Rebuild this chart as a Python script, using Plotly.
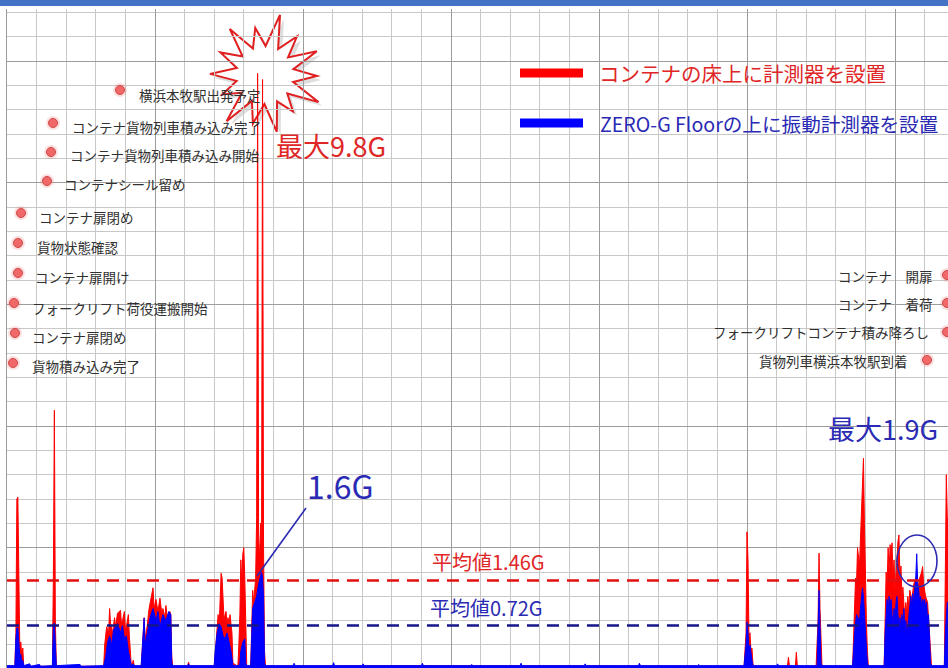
import math
import plotly.graph_objects as go

# ---------------- data ----------------
# elapsed time (arbitrary units, grid every 30) and acceleration (G)
t_red = [0, 8, 9, 10, 11, 12, 13, 14, 15, 16, 17,
         46, 47, 48, 49, 50,
         98, 99, 101, 103, 104, 105, 107, 109, 110, 112, 115, 116, 117, 119, 120, 121, 123, 124, 125, 126, 128, 129,
         136, 138, 139, 140, 142, 144, 146, 147, 148, 149, 151, 153, 155, 157, 158, 160, 161, 163, 165, 166, 167, 168,
         183, 184, 185,
         210, 211, 212, 214, 215, 216, 217, 218, 219, 220, 221, 222, 223, 224, 225, 226, 227, 228, 229,
         234, 235, 236, 237, 238, 239, 240, 241, 242, 243,
         247, 248, 249, 250, 251, 252, 253, 254, 255, 256, 257, 258, 259, 260, 261, 262,
         398, 601,
         747, 749, 750, 751, 752, 753, 754, 755, 756, 757,
         791, 792, 793, 799, 800, 801,
         820, 822, 823, 824, 825, 826,
         857, 858, 859, 860, 861, 862, 864, 865, 866, 867, 868, 869, 870, 871, 872, 873,
         889, 890, 891, 892, 893, 894, 895, 896, 897, 898, 899, 900, 901, 902, 903, 904, 905, 906, 907, 908, 909, 910,
         911, 912, 913, 914, 915, 917, 919, 921, 923, 925, 927, 928, 929, 931, 933, 935, 936, 937,
         950, 951, 952, 953, 955]
g_red = [0.05, 0.05, 0.6, 2.8, 2.83, 0.8, 0.3, 0.45, 0.2, 0.35, 0.05,
         0.05, 1.5, 4.26, 0.8, 0.05,
         0.05, 0.4, 0.7, 0.6, 1.0, 0.75, 0.6, 0.85, 0.7, 0.92, 0.97, 0.75, 0.8, 0.95, 0.65, 0.7, 0.9, 0.55, 0.3, 0.05, 0.15, 0.05,
         0.05, 0.5, 0.85, 0.5, 0.7, 1.0, 1.2, 1.3, 1.34, 1.0, 1.15, 0.95, 1.17, 0.9, 1.0, 0.85, 1.05, 0.8, 0.95, 0.9, 0.2, 0.05,
         0.05, 0.12, 0.05,
         0.05, 0.3, 0.5, 0.9, 0.7, 1.2, 1.58, 1.5, 1.0, 0.8, 0.9, 0.95, 0.75, 0.85, 0.7, 0.9, 0.75, 0.6, 0.1,
         0.05, 0.4, 0.9, 1.8, 1.4, 1.9, 2.0, 1.5, 0.4, 0.05,
         0.05, 1.0, 1.3, 1.1, 1.35, 1.5, 2.5, 9.8, 2.2, 1.8, 2.4, 2.0, 9.7, 2.0, 0.3, 0.05,
         0.06, 0.05,
         0.05, 0.6, 2.26, 1.8, 0.5, 0.6, 0.3, 0.35, 0.1, 0.05,
         0.05, 0.2, 0.05, 0.05, 0.28, 0.05,
         0.05, 0.8, 1.91, 1.0, 0.3, 0.05,
         0.05, 0.6, 1.2, 1.5, 1.4, 2.0, 1.7, 2.1, 2.5, 3.0, 3.47, 2.4, 1.2, 0.8, 0.3, 0.05,
         0.05, 0.8, 1.6, 1.4, 2.0, 1.6, 2.05, 1.9, 2.08, 1.5, 1.8, 1.3, 1.6, 1.9, 2.1, 2.21, 1.5, 1.7, 1.2, 1.35, 1.0, 0.8,
         1.1, 0.9, 1.2, 1.0, 1.3, 1.15, 1.4, 1.5, 1.3, 1.5, 1.6, 1.69, 1.4, 1.2, 1.1, 0.6, 0.2, 0.05,
         0.05, 1.5, 3.2, 2.5, 2.3]

t_blue = [0, 8, 9, 10, 11, 12, 13, 14, 15, 16, 17,
          23, 24, 33, 34,
          46, 47, 48, 49, 50,
          74, 75,
          98, 100, 102, 104, 106, 108, 110, 112, 115, 117, 119, 121, 123, 125, 126,
          128, 129,
          136, 138, 139, 140, 142, 145, 148, 151, 153, 155, 158, 161, 164, 166, 167, 168,
          183, 184, 185,
          210, 211, 213, 215, 217, 219, 221, 223, 225, 227, 229,
          235, 236, 237, 239, 241, 242, 243,
          247, 248, 249, 251, 253, 255, 257, 258, 259, 260, 261, 262,
          290, 291, 292, 330, 331, 332, 360, 361, 362, 420, 421, 422, 470, 471, 472,
          520, 521, 522, 585, 586, 587, 640, 641, 642, 700, 701, 702,
          747, 749, 750, 751, 752, 753, 754, 755, 756,
          780, 781, 782,
          821, 822, 823, 824, 825, 826,
          857, 858, 859, 861, 864, 865, 867, 868, 869, 870, 871, 872, 873,
          889, 890, 891, 892, 893, 894, 895, 896, 897, 898, 899, 900, 901, 902, 903, 904, 905, 906, 907, 908, 909, 910,
          911, 912, 913, 914, 915, 916, 917, 918, 919, 920, 921, 922, 923, 924, 925, 926, 927, 928, 929, 930,
          931, 932, 933, 934, 935, 936, 937,
          950, 951, 952, 953, 955]
g_blue = [0.06, 0.06, 0.5, 0.68, 0.68, 0.3, 0.2, 0.25, 0.1, 0.15, 0.06,
          0.09, 0.05, 0.08, 0.05,
          0.06, 0.7, 0.76, 0.3, 0.06,
          0.08, 0.05,
          0.06, 0.2, 0.45, 0.55, 0.4, 0.65, 0.7, 0.75, 0.6, 0.72, 0.5, 0.55, 0.3, 0.1, 0.06,
          0.09, 0.06,
          0.06, 0.6, 0.84, 0.4, 0.6, 0.85, 1.0, 0.8, 0.95, 0.7, 0.9, 0.8, 0.95, 0.9, 0.1, 0.06,
          0.06, 0.09, 0.06,
          0.06, 0.3, 0.6, 0.75, 0.7, 0.55, 0.5, 0.6, 0.45, 0.3, 0.06,
          0.06, 0.1, 0.3, 0.45, 0.5, 0.1, 0.06,
          0.06, 0.8, 1.0, 1.1, 1.2, 1.4, 1.55, 1.6, 1.5, 1.2, 0.1, 0.06,
          0.06, 0.1, 0.06, 0.06, 0.11, 0.06, 0.06, 0.09, 0.06, 0.06, 0.1, 0.06, 0.06, 0.08, 0.06,
          0.06, 0.1, 0.06, 0.06, 0.09, 0.06, 0.06, 0.1, 0.06, 0.06, 0.08, 0.06,
          0.06, 0.4, 0.78, 0.6, 0.3, 0.4, 0.2, 0.15, 0.06,
          0.06, 0.09, 0.06,
          0.06, 0.6, 1.3, 0.7, 0.1, 0.06,
          0.06, 0.3, 0.6, 0.9, 0.8, 1.0, 1.34, 1.2, 0.9, 0.6, 0.4, 0.1, 0.06,
          0.06, 0.6, 1.0, 1.15, 0.9, 1.2, 1.0, 1.15, 0.9, 0.7, 1.0, 0.8, 1.1, 1.2, 0.9, 0.7, 0.85, 0.6, 0.9, 0.7, 1.0, 0.6,
          0.8, 0.55, 0.7, 0.9, 1.0, 1.2, 1.0, 1.25, 1.1, 1.3, 1.5, 1.9, 1.4, 1.3, 1.1, 1.2, 1.0, 1.15, 1.1, 1.15,
          1.0, 1.1, 0.8, 0.9, 0.5, 0.1, 0.06,
          0.06, 0.6, 1.0, 1.1, 1.1]

mean_red = 1.46
mean_blue = 0.72
max_red = 9.8
peak_blue_early = 1.6
max_blue = 1.9

series_names = ["コンテナの床上に計測器を設置", "ZERO-G Floorの上に振動計測器を設置"]
events_left = ["横浜本牧駅出発予定", "コンテナ貨物列車積み込み完了", "コンテナ貨物列車積み込み開始",
               "コンテナシール留め", "コンテナ扉閉め", "貨物状態確認", "コンテナ扉開け",
               "フォークリフト荷役運搬開始", "コンテナ扉閉め", "貨物積み込み完了"]
events_right = ["コンテナ　開扉", "コンテナ　着荷", "フォークリフトコンテナ積み降ろし", "貨物列車横浜本牧駅到着"]

# ---------------- layout helpers (pixel -> paper) ----------------
W, H = 948, 668
LM, TM = 7, 9
PW, PH = W - LM, H - TM


def px(x):
    return (x - LM) / PW


def py(y):
    return (H - y) / PH


FONT = "Noto Sans CJK JP"
RED_TXT = "#e02626"
BLUE_TXT = "#2a2ab4"

fig = go.Figure()
fig.add_trace(go.Scatter(x=t_red, y=g_red, mode="lines", line=dict(color="#ff0000", width=1),
                         fill="tozeroy", fillcolor="#ff0000", hoverinfo="skip", showlegend=False))
fig.add_trace(go.Scatter(x=t_blue, y=g_blue, mode="lines", line=dict(color="#0000ff", width=1),
                         fill="tozeroy", fillcolor="#0000ff", hoverinfo="skip", showlegend=False))

shapes = []
annotations = []

# top banner
shapes.append(dict(type="rect", xref="paper", yref="paper", x0=px(0), x1=px(W), y0=py(6), y1=py(0),
                   fillcolor="#4472c4", line=dict(width=0), layer="above"))

# mean lines
shapes.append(dict(type="line", xref="paper", yref="y", x0=0, x1=1, y0=mean_red, y1=mean_red,
                   line=dict(color="#e01010", width=2.5, dash="12px,8px")))
shapes.append(dict(type="line", xref="paper", yref="y", x0=0, x1=1, y0=mean_blue, y1=mean_blue,
                   line=dict(color="#16168a", width=2.5, dash="12px,8px")))

# starburst (shadow + star)
cx, cy = 265, 75
radii = [62, 50, 57, 52, 60, 46, 58, 50, 60, 47, 55, 50, 58, 48]
n = len(radii)
a0 = math.radians(-76)


def star_path(dx, dy):
    pts = []
    for i in range(n):
        a = a0 + 2 * math.pi * i / n
        pts.append((cx + dx + radii[i] * math.cos(a), cy + dy + radii[i] * math.sin(a)))
        ai = a + math.pi / n
        pts.append((cx + dx + 29 * math.cos(ai), cy + dy + 29 * math.sin(ai)))
    s = "M " + " L ".join(f"{px(x):.5f},{py(y):.5f}" for x, y in pts) + " Z"
    return s


shapes.append(dict(type="path", xref="paper", yref="paper", path=star_path(4, 4),
                   fillcolor="rgba(0,0,0,0.13)", line=dict(width=0), layer="between"))
shapes.append(dict(type="path", xref="paper", yref="paper", path=star_path(0, 0),
                   fillcolor="white", line=dict(color="#e02020", width=2), layer="between"))

# legend
leg_y = [73, 123]
leg_col = ["#ff0000", "#0000ff"]
leg_txt_col = [RED_TXT, BLUE_TXT]
leg_txt_x = [597, 598]
leg_size = [20.5, 19.6]
for name, yy, c, tc, tx, fs in zip(series_names, leg_y, leg_col, leg_txt_col, leg_txt_x, leg_size):
    shapes.append(dict(type="rect", xref="paper", yref="paper", x0=px(520), x1=px(583),
                       y0=py(yy + 4.5), y1=py(yy - 4.5), fillcolor=c, line=dict(width=0)))
    annotations.append(dict(xref="paper", yref="paper", x=px(tx), y=py(yy), text=name, showarrow=False,
                            xanchor="left", yanchor="middle", font=dict(family=FONT, size=fs, color=tc)))

# event labels
left_pos = [(137, 95, 120, 90), (70, 127, 53, 123), (68, 155, 51, 152), (62, 184, 47, 181),
            (37, 217, 21, 213), (35, 247, 18, 243), (33, 277, 18, 273), (30, 308, 14, 303),
            (30, 337, 15, 333), (30, 366, 13, 363)]
right_pos = [(935, 276, 947, 275), (935, 304, 947, 303), (931, 332, 947, 332), (910, 361, 927, 360)]


def dot(x, y):
    shapes.append(dict(type="circle", xref="paper", yref="paper", x0=px(x - 7), x1=px(x + 7),
                       y0=py(y + 7), y1=py(y - 7), fillcolor="rgba(240,110,110,0.22)", line=dict(width=0)))
    shapes.append(dict(type="circle", xref="paper", yref="paper", x0=px(x - 4.5), x1=px(x + 4.5),
                       y0=py(y + 4.5), y1=py(y - 4.5), fillcolor="#f06868",
                       line=dict(color="#d04848", width=1)))


for name, (tx, ty, dx, dy) in zip(events_left, left_pos):
    dot(dx, dy)
    annotations.append(dict(xref="paper", yref="paper", x=px(tx), y=py(ty), text=name, showarrow=False,
                            xanchor="left", yanchor="middle", font=dict(family=FONT, size=13.5, color="#303030")))
for name, (tx, ty, dx, dy) in zip(events_right, right_pos):
    dot(dx, dy)
    annotations.append(dict(xref="paper", yref="paper", x=px(tx), y=py(ty), text=name, showarrow=False,
                            xanchor="right", yanchor="middle", font=dict(family=FONT, size=13.5, color="#303030")))

# callouts
annotations.append(dict(xref="paper", yref="paper", x=px(274), y=py(145), text=f"最大{max_red}G",
                        showarrow=False, xanchor="left", yanchor="middle",
                        font=dict(family=FONT, size=27, color=RED_TXT)))
annotations.append(dict(xref="paper", yref="paper", x=px(826), y=py(428), text=f"最大{max_blue}G",
                        showarrow=False, xanchor="left", yanchor="middle",
                        font=dict(family=FONT, size=27, color=BLUE_TXT)))
annotations.append(dict(xref="paper", yref="paper", x=px(305), y=py(485), text=f"{peak_blue_early}G",
                        showarrow=False, xanchor="left", yanchor="middle",
                        font=dict(family=FONT, size=32, color=BLUE_TXT)))
annotations.append(dict(xref="paper", yref="paper", x=px(430), y=py(561), text=f"平均値{mean_red}G",
                        showarrow=False, xanchor="left", yanchor="middle",
                        font=dict(family=FONT, size=20, color=RED_TXT)))
annotations.append(dict(xref="paper", yref="paper", x=px(428), y=py(607), text=f"平均値{mean_blue}G",
                        showarrow=False, xanchor="left", yanchor="middle",
                        font=dict(family=FONT, size=20, color=BLUE_TXT)))

# pointer line for 1.6G and circle for 1.9G
shapes.append(dict(type="line", xref="paper", yref="paper", x0=px(257), y0=py(576), x1=px(306), y1=py(508),
                   line=dict(color=BLUE_TXT, width=1.6)))
shapes.append(dict(type="circle", xref="paper", yref="paper", x0=px(897), x1=px(937), y0=py(587), y1=py(535),
                   line=dict(color=BLUE_TXT, width=1.6)))

fig.update_layout(
    width=W, height=H,
    margin=dict(l=LM, r=0, t=TM, b=0),
    paper_bgcolor="white", plot_bgcolor="white",
    showlegend=False,
    shapes=shapes, annotations=annotations,
    xaxis=dict(range=[0, 953.7], dtick=150, tick0=0, showgrid=True, gridcolor="#9c9c9c", gridwidth=1.2,
               minor=dict(dtick=30, showgrid=True, gridcolor="#c8c8c8", gridwidth=1.2),
               showticklabels=False, ticks="", zeroline=False, showline=False),
    yaxis=dict(range=[0.0214, 10.86], dtick=2, tick0=0, showgrid=True, gridcolor="#9c9c9c", gridwidth=1.2,
               minor=dict(dtick=0.4, showgrid=True, gridcolor="#c8c8c8", gridwidth=1.2),
               showticklabels=False, ticks="", zeroline=False, showline=True, linecolor="#9c9c9c", linewidth=1.2),
)

fig.write_html("out.html", config={"displayModeBar": False},
               post_script="document.body.style.margin='0px';document.body.style.padding='0px';"
                           "document.body.style.overflow='hidden';")
